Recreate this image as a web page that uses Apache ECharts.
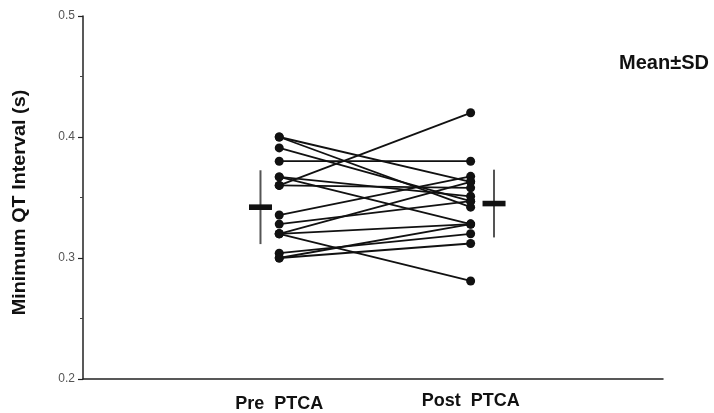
<!DOCTYPE html>
<html>
<head>
<meta charset="utf-8">
<script src="https://cdn.jsdelivr.net/npm/echarts@6/dist/echarts.min.js"></script>
<style>
html,body{margin:0;padding:0;background:#fff;}
#c{width:714px;height:413px;}
</style>
</head>
<body>
<div id="c"></div>
<script>
// Data
var groups = ['Pre  PTCA', 'Post  PTCA'];
var preValues  = [0.400, 0.400, 0.391, 0.380, 0.367, 0.367, 0.360, 0.360, 0.3355, 0.328, 0.320, 0.320, 0.320, 0.304, 0.300, 0.300];
var postValues = [0.342, 0.363, 0.347, 0.380, 0.328, 0.351, 0.420, 0.358, 0.3675, 0.347, 0.281, 0.363, 0.328, 0.320, 0.312, 0.328];
var meanSD = [ // [mean, sd]
  [0.342, 0.0305],
  [0.345, 0.028]
];
var yTicks = [0.2, 0.3, 0.4, 0.5];

var preX = 1.015, postX = 2.005;
var meanX = [0.918, 2.126];

var chart = echarts.init(document.getElementById('c'));
var series = [];
for (var i = 0; i < preValues.length; i++) {
  series.push({
    type: 'line',
    data: [[preX, preValues[i]], [postX, postValues[i]]],
    symbol: 'circle',
    symbolSize: 9,
    lineStyle: {color: '#111', width: 1.8},
    itemStyle: {color: '#111'},
    silent: true,
    animation: false,
    z: 3
  });
}
series.push({
  type: 'custom',
  animation: false,
  silent: true,
  data: meanSD.map(function (d, k) { return [meanX[k], d[0], d[1]]; }),
  renderItem: function (params, api) {
    var x = api.value(0), m = api.value(1), s = api.value(2);
    var top = api.coord([x, m + s]);
    var bot = api.coord([x, m - s]);
    var mid = api.coord([x, m]);
    return {
      type: 'group',
      children: [
        {type: 'line', shape: {x1: top[0], y1: top[1], x2: bot[0], y2: bot[1]},
         style: {stroke: '#555', lineWidth: 2}},
        {type: 'rect', shape: {x: mid[0] - 11.5, y: mid[1] - 2.8, width: 23, height: 5.6},
         style: {fill: '#111'}}
      ]
    };
  }
});

chart.setOption({
  animation: false,
  grid: {left: 83, right: 51, top: 16, bottom: 33, containLabel: false},
  xAxis: {
    type: 'value', min: 0, max: 3,
    splitLine: {show: false},
    axisTick: {show: false},
    axisLine: {show: true, lineStyle: {color: '#222', width: 1.5}},
    axisLabel: {
      customValues: [preX, postX],
      margin: 13,
      formatter: function (v) { return Math.abs(v - preX) < 0.01 ? '{a|' + groups[0] + '}' : '{b|' + groups[1] + '}'; },
      rich: {
        a: {fontFamily: 'Liberation Sans', fontWeight: 'bold', fontSize: 18, color: '#111', padding: [3, 0, 0, 0]},
        b: {fontFamily: 'Liberation Sans', fontWeight: 'bold', fontSize: 18, color: '#111', padding: [0, 0, 3, 0]}
      }
    }
  },
  yAxis: {
    type: 'value', min: 0.2, max: 0.5, interval: 0.1,
    splitLine: {show: false},
    axisLine: {show: true, lineStyle: {color: '#222', width: 1.5}},
    axisTick: {show: true, length: 5, lineStyle: {color: '#222', width: 1.2}},
    minorTick: {show: true, splitNumber: 2, length: 3, lineStyle: {color: '#444', width: 1}},
    axisLabel: {
      customValues: yTicks,
      margin: 8, color: '#555', fontSize: 12, fontFamily: 'Liberation Sans',
      formatter: function (v) { return v.toFixed(1); }
    }
  },
  graphic: [
    {type: 'text', x: 20, y: 202.5, rotation: Math.PI / 2, scaleX: 1.1,
     style: {text: 'Minimum QT Interval (s)', font: 'bold 18px "Liberation Sans"', fill: '#111',
             align: 'center', verticalAlign: 'middle'}},
    {type: 'text', x: 664, y: 63.5,
     style: {text: 'Mean\u00b1SD', font: 'bold 20px "Liberation Sans"', fill: '#111',
             align: 'center', verticalAlign: 'middle'}}
  ],
  series: series
});
</script>
</body>
</html>
